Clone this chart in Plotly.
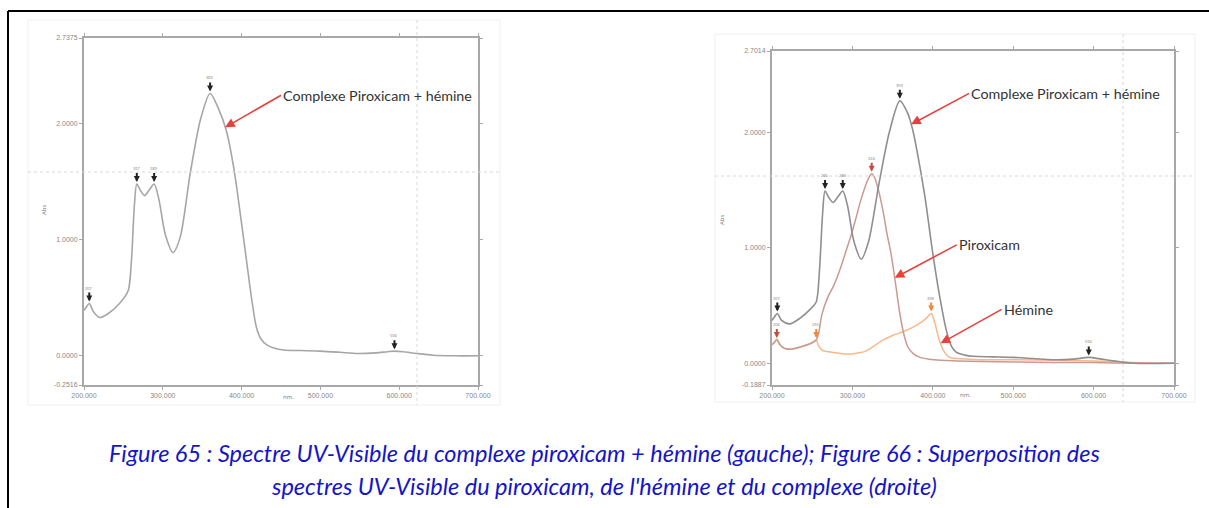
import numpy as np
import plotly.graph_objects as go

W, H = 1209, 508

# ---------------- data ----------------
# Left: complexe piroxicam + hémine
left_nm = [200, 203, 206.7, 212, 220, 230, 245, 256, 260, 264, 267, 272, 277, 283, 289, 295,
           303, 313, 322, 335, 348, 360, 370, 381, 390, 398, 407, 413, 419, 425, 432, 442,
           453, 475, 500, 525, 547, 570, 585, 594, 605, 622, 643, 670, 700]
left_abs = [0.39, 0.42, 0.45, 0.38, 0.33, 0.36, 0.45, 0.56, 0.80, 1.30, 1.48, 1.42, 1.38, 1.43,
            1.48, 1.35, 1.05, 0.89, 1.02, 1.58, 2.04, 2.26, 2.14, 1.93, 1.62, 1.24, 0.78, 0.48,
            0.24, 0.14, 0.094, 0.065, 0.05, 0.045, 0.04, 0.03, 0.02, 0.025, 0.035, 0.04, 0.035,
            0.02, 0.005, 0.0, 0.0]
left_peaks = [206.7, 267, 289, 360, 594]

# Right: complexe
cplx_nm = [200, 203, 206.6, 212, 222, 235, 248, 255, 259, 263, 266, 271, 276, 282, 288, 294,
           302, 311, 320, 333, 346, 359, 369, 375, 380, 390, 400, 408, 417, 423, 429, 440,
           450, 475, 500, 525, 550, 575, 594, 610, 625, 650, 700]
cplx_abs = [0.37, 0.40, 0.43, 0.37, 0.34, 0.39, 0.47, 0.53, 0.80, 1.30, 1.49, 1.43, 1.39, 1.44,
            1.49, 1.36, 1.05, 0.90, 1.05, 1.55, 2.00, 2.27, 2.16, 2.02, 1.85, 1.45, 0.95, 0.60,
            0.28, 0.15, 0.095, 0.07, 0.06, 0.055, 0.05, 0.04, 0.03, 0.035, 0.05, 0.035, 0.02,
            0.0, 0.0]
cplx_peaks = [206.6, 266, 288, 359, 594]

# Right: piroxicam
pirox_nm = [200, 203, 206, 210, 215, 222, 235, 248, 255, 258, 262, 270, 276, 285, 292, 299,
            305, 310, 316, 320, 324, 328, 333, 338, 343, 348, 353, 359, 364, 369, 376, 384,
            395, 410, 430, 460, 500, 550, 600, 650, 700]
pirox_abs = [0.16, 0.18, 0.20, 0.16, 0.13, 0.12, 0.14, 0.17, 0.20, 0.26, 0.42, 0.58, 0.66, 0.82,
             0.97, 1.12, 1.27, 1.40, 1.53, 1.60, 1.64, 1.60, 1.48, 1.32, 1.12, 0.95, 0.72, 0.43,
             0.25, 0.14, 0.08, 0.05, 0.035, 0.025, 0.02, 0.015, 0.01, 0.005, 0.005, 0.0, 0.0]
pirox_peaks = [206, 324]

# Right: hémine
hem_nm = [200, 203, 206, 210, 215, 222, 235, 248, 255, 258, 263, 270, 280, 290, 299, 308, 315,
          325, 338, 350, 362, 375, 385, 392, 398, 402, 408, 414, 421, 430, 445, 470, 500, 550,
          600, 650, 700]
hem_abs = [0.16, 0.18, 0.21, 0.16, 0.13, 0.12, 0.14, 0.17, 0.20, 0.15, 0.11, 0.10, 0.09, 0.08,
           0.08, 0.09, 0.10, 0.14, 0.20, 0.24, 0.27, 0.31, 0.35, 0.39, 0.43, 0.36, 0.20, 0.10,
           0.05, 0.04, 0.035, 0.03, 0.03, 0.025, 0.02, 0.005, 0.0]
hem_peaks = [255, 398]

x_ticks = [200, 300, 400, 500, 600, 700]
x_ticktext = ["200.000", "300.000", "400.000", "500.000", "600.000", "700.000"]
left_yticks = [-0.2516, 0, 1, 2, 2.7375]
left_yticktext = ["-0.2516", "0.0000", "1.0000", "2.0000", "2.7375"]
right_yticks = [-0.1887, 0, 1, 2, 2.7014]
right_yticktext = ["-0.1887", "0.0000", "1.0000", "2.0000", "2.7014"]

caption1 = "Figure 65 : Spectre UV-Visible du complexe piroxicam + hémine (gauche); Figure 66 : Superposition des"
caption2 = "spectres UV-Visible du piroxicam, de l'hémine et du complexe (droite)"

# ---------------- styles ----------------
C_CPLX_L = "#a6a6a6"
C_CPLX_R = "#8f8f8f"
C_PIROX = "#c99a92"
C_HEM = "#f6b88c"
C_ARROW = "#e8413c"
TXT = "#333333"


def px(x):
    return x / W


def py(y):
    return 1 - y / H


fig = go.Figure()

fig.add_trace(go.Scatter(x=left_nm, y=left_abs, mode="lines", line=dict(color=C_CPLX_L, width=1.6, shape="spline", smoothing=0.8),
                         xaxis="x", yaxis="y", showlegend=False))
fig.add_trace(go.Scatter(x=hem_nm, y=hem_abs, mode="lines", line=dict(color=C_HEM, width=1.5, shape="spline", smoothing=0.8),
                         xaxis="x2", yaxis="y2", showlegend=False))
fig.add_trace(go.Scatter(x=pirox_nm, y=pirox_abs, mode="lines", line=dict(color=C_PIROX, width=1.5, shape="spline", smoothing=0.8),
                         xaxis="x2", yaxis="y2", showlegend=False))
fig.add_trace(go.Scatter(x=cplx_nm, y=cplx_abs, mode="lines", line=dict(color=C_CPLX_R, width=1.6, shape="spline", smoothing=0.8),
                         xaxis="x2", yaxis="y2", showlegend=False))

annotations = []


def peak_marks(peaks, nm, ab, xa, ya, color):
    for p in peaks:
        yv = float(np.interp(p, nm, ab))
        annotations.append(dict(x=p, y=yv, xref=xa, yref=ya, text=f"{int(round(p))}",
                                showarrow=True, arrowhead=2, arrowsize=0.6, arrowwidth=2,
                                arrowcolor=color, ax=0, ay=-11, standoff=2,
                                font=dict(size=4, color="#777"), yanchor="bottom"))


peak_marks(left_peaks, left_nm, left_abs, "x", "y", "#222")
peak_marks(cplx_peaks, cplx_nm, cplx_abs, "x2", "y2", "#222")
peak_marks(pirox_peaks, pirox_nm, pirox_abs, "x2", "y2", "#c0503a")
peak_marks(hem_peaks, hem_nm, hem_abs, "x2", "y2", "#f08a3a")


def label(text, nm, curve_nm, curve_ab, xa, ya, ax, ay):
    yv = float(np.interp(nm, curve_nm, curve_ab))
    annotations.append(dict(x=nm, y=yv, xref=xa, yref=ya, text=text, showarrow=True,
                            arrowhead=2, arrowsize=1.2, arrowwidth=1.6, arrowcolor=C_ARROW,
                            ax=ax, ay=ay, xanchor="left", yanchor="middle",
                            font=dict(family="Lato, Open Sans, sans-serif", size=14.3, color=TXT)))


label("Complexe Piroxicam + hémine", 379, left_nm, left_abs, "x", "y", 56, -32)
label("Complexe Piroxicam + hémine", 373, cplx_nm, cplx_abs, "x2", "y2", 58, -31)
label("Piroxicam", 352.6, pirox_nm, pirox_abs, "x2", "y2", 62, -33)
label("Hémine", 409.7, hem_nm, hem_abs, "x2", "y2", 61, -34)

# axis titles
annotations += [
    dict(x=px(281), y=py(403), xref="paper", yref="paper", text="nm.", showarrow=False,
         font=dict(size=6, color="#777")),
    dict(x=px(38), y=py(210), xref="paper", yref="paper", text="Abs", showarrow=False,
         textangle=-90, font=dict(size=6, color="#777")),
    dict(x=px(973), y=py(401), xref="paper", yref="paper", text="nm.", showarrow=False,
         font=dict(size=6, color="#777")),
    dict(x=px(722), y=py(220), xref="paper", yref="paper", text="Abs", showarrow=False,
         textangle=-90, font=dict(size=6, color="#777")),
]

# caption
for txt, yy in [(caption1, 453), (caption2, 486)]:
    annotations.append(dict(x=px(604), y=py(yy), xref="paper", yref="paper", text=txt, showarrow=False,
                            xanchor="center", yanchor="middle",
                            font=dict(family="Lato, Open Sans, sans-serif", size=23.5, color="#1414c8",
                                      style="italic")))

shapes = [
    # outer border (top, left)
    dict(type="line", xref="paper", yref="paper", x0=px(8), x1=1, y0=py(11), y1=py(11),
         line=dict(color="black", width=2)),
    dict(type="line", xref="paper", yref="paper", x0=px(8), x1=px(8), y0=py(11), y1=0,
         line=dict(color="black", width=2)),
    # image frames
    dict(type="rect", xref="paper", yref="paper", x0=px(28), x1=px(500), y0=py(405), y1=py(20),
         line=dict(color="#efefef", width=1)),
    dict(type="rect", xref="paper", yref="paper", x0=px(715), x1=px(1195), y0=py(402), y1=py(34),
         line=dict(color="#efefef", width=1)),
    # crosshairs
    dict(type="line", xref="paper", yref="paper", x0=px(28), x1=px(500), y0=py(172), y1=py(172),
         line=dict(color="#d8d8d8", width=1, dash="dot")),
    dict(type="line", xref="paper", yref="paper", x0=px(417), x1=px(417), y0=py(20), y1=py(405),
         line=dict(color="#d8d8d8", width=1, dash="dot")),
    dict(type="line", xref="paper", yref="paper", x0=px(715), x1=px(1195), y0=py(176), y1=py(176),
         line=dict(color="#d8d8d8", width=1, dash="dot")),
    dict(type="line", xref="paper", yref="paper", x0=px(1123), x1=px(1123), y0=py(34), y1=py(402),
         line=dict(color="#d8d8d8", width=1, dash="dot")),
]

axis_common = dict(showgrid=False, zeroline=False, showline=True, linecolor="#a8a8a8", linewidth=2,
                   mirror="ticks", ticks="outside", ticklen=3, tickcolor="#a8a8a8", automargin=False,
                   tickfont=dict(size=7, color="#888", family="Liberation Sans, Arial"))

fig.update_layout(
    width=W, height=H, margin=dict(l=0, r=0, t=0, b=0, autoexpand=False),
    paper_bgcolor="white", plot_bgcolor="white",
    xaxis=dict(domain=[px(84), px(478)], range=[200, 700], tickvals=x_ticks, ticktext=x_ticktext,
               anchor="y", **axis_common),
    yaxis=dict(domain=[py(385), py(38)], range=[-0.2516, 2.7375], tickvals=left_yticks,
               ticktext=left_yticktext, anchor="x", **axis_common),
    xaxis2=dict(domain=[px(772), px(1174)], range=[200, 700], tickvals=x_ticks, ticktext=x_ticktext,
                anchor="y2", **axis_common),
    yaxis2=dict(domain=[py(385), py(51)], range=[-0.1887, 2.7014], tickvals=right_yticks,
                ticktext=right_yticktext, anchor="x2", **axis_common),
    annotations=annotations, shapes=shapes,
)

fig.write_html("out.html", config={"displayModeBar": False},
               post_script="document.body.style.margin='0';document.body.style.overflow='hidden';")
